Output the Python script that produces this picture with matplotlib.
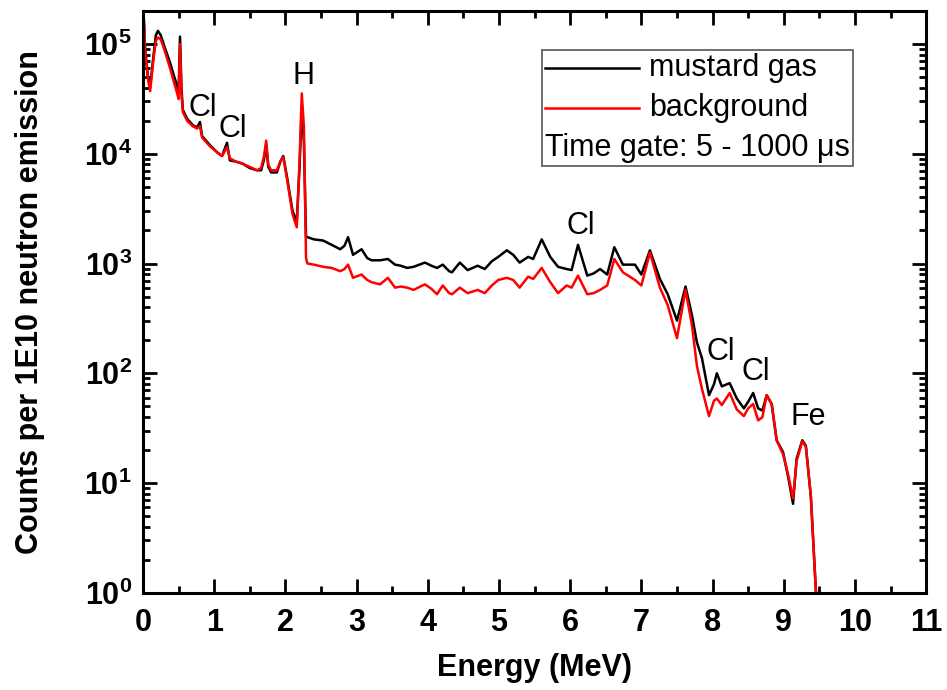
import math

import matplotlib

matplotlib.use("Agg")
import matplotlib.pyplot as plt
from matplotlib.lines import Line2D
from matplotlib.offsetbox import AnchoredOffsetbox, DrawingArea, HPacker, TextArea, VPacker
from matplotlib.ticker import FixedLocator, FuncFormatter, LogLocator, MultipleLocator, NullFormatter

plt.rcParams["font.family"] = ["Liberation Sans", "DejaVu Sans"]
plt.rcParams["mathtext.fontset"] = "custom"
plt.rcParams["mathtext.rm"] = "Liberation Sans"
plt.rcParams["mathtext.bf"] = "Liberation Sans:bold"

# gamma spectra, counts per 1E10 neutrons vs energy (MeV)
energy = [
    0.00, 0.03, 0.07, 0.10, 0.14, 0.18, 0.21, 0.25, 0.30, 0.38,
    0.44, 0.48, 0.50, 0.52, 0.54, 0.56, 0.62, 0.70, 0.76, 0.80,
    0.83, 0.94, 1.05, 1.11, 1.18, 1.22, 1.30, 1.40, 1.50, 1.60,
    1.66, 1.70, 1.73, 1.76, 1.80, 1.88, 1.93, 1.97, 2.02, 2.10,
    2.16, 2.20, 2.23, 2.26, 2.29, 2.31, 2.40, 2.53, 2.65, 2.77,
    2.83, 2.88, 2.95, 3.07, 3.15, 3.21, 3.33, 3.44, 3.54, 3.62,
    3.71, 3.80, 3.96, 4.05, 4.13, 4.21, 4.30, 4.34, 4.45, 4.56,
    4.70, 4.80, 4.90, 4.99, 5.11, 5.20, 5.29, 5.41, 5.48, 5.60,
    5.72, 5.83, 5.95, 6.02, 6.11, 6.24, 6.33, 6.42, 6.52, 6.62,
    6.74, 6.91, 7.00, 7.12, 7.26, 7.37, 7.50, 7.62, 7.71, 7.78,
    7.85, 7.95, 8.02, 8.06, 8.13, 8.24, 8.34, 8.44, 8.50, 8.57,
    8.64, 8.70, 8.76, 8.83, 8.90, 8.99, 9.06, 9.13, 9.18, 9.26,
    9.31, 9.38, 9.45, 9.50,
]

mustard_gas = [
    250000, 89100, 50100, 39800, 70800, 120000, 132000, 120000, 95500, 67600,
    50100, 41700, 36300, 117000, 39800, 25100, 20900, 18200, 17400, 19500,
    14500, 12000, 10200, 9550, 12600, 8710, 8510, 8130, 7410, 7080,
    7080, 8910, 12000, 7590, 6760, 6760, 8510, 9550, 6310, 3020,
    2400, 7940, 26900, 12600, 1740, 1740, 1660, 1620, 1480, 1350,
    1450, 1740, 1200, 1350, 1120, 1070, 1070, 1100, 977, 955,
    912, 933, 1020, 955, 912, 977, 851, 832, 1020, 871,
    955, 891, 1050, 1150, 1320, 1200, 1020, 1150, 1100, 1660,
    1150, 933, 891, 871, 1480, 776, 813, 891, 794, 1410,
    977, 977, 794, 1320, 724, 525, 302, 617, 339, 191,
    138, 63.1, 79.4, 100, 75.9, 81.3, 58.9, 47.9, 55.0, 66.1,
    47.9, 45.7, 63.1, 52.5, 24.5, 19.1, 11.5, 6.46, 16.6, 24.5,
    21.9, 7.59, 1.07, 0.32,
]

background = [
    250000, 89100, 47900, 37200, 66100, 107000, 115000, 110000, 89100, 60300,
    43700, 35500, 31600, 100000, 35500, 24000, 20000, 17800, 17000, 17800,
    14100, 11700, 10200, 9550, 11500, 9120, 8510, 8130, 7590, 7080,
    7410, 9550, 13200, 7940, 7080, 7080, 8510, 9330, 6030, 2820,
    2140, 8910, 35500, 17800, 1120, 1000, 977, 933, 912, 851,
    891, 977, 741, 794, 708, 676, 646, 741, 603, 617,
    603, 575, 646, 589, 525, 631, 537, 525, 603, 537,
    575, 537, 631, 708, 741, 708, 603, 759, 724, 912,
    676, 537, 631, 603, 776, 525, 537, 575, 631, 1100,
    832, 708, 631, 1260, 603, 417, 209, 575, 275, 117,
    72.4, 40.7, 56.2, 58.9, 51.3, 66.1, 46.8, 40.7, 47.9, 52.5,
    37.2, 39.8, 63.1, 52.5, 24.5, 18.2, 12.0, 7.24, 15.8, 24.0,
    21.4, 7.59, 1.07, 0.32,
]

peak_labels = ["Cl", "Cl", "H", "Cl", "Cl", "Cl", "Fe"]
peak_label_energy = [0.84, 1.26, 2.26, 6.15, 8.12, 8.60, 9.35]
peak_label_counts = [26000, 17000, 51000, 2200, 155, 102, 40]

assert len(energy) == len(mustard_gas) == len(background)

fig = plt.figure(figsize=(9.47, 6.90), dpi=100)
ax = fig.add_axes([0.151, 0.141, 0.827, 0.843])

ax.plot(energy, mustard_gas, color="black", lw=1.8)
ax.plot(energy, background, color="#ff0000", lw=1.8)

ax.set_yscale("log")
ax.set_xlim(0, 11)
ax.set_ylim(1, 2.0e5)

ax.xaxis.set_major_locator(MultipleLocator(1))
ax.xaxis.set_minor_locator(MultipleLocator(0.5))
ax.yaxis.set_major_locator(FixedLocator([1, 10, 100, 1e3, 1e4, 1e5]))
ax.yaxis.set_minor_locator(LogLocator(base=10, subs=range(2, 10), numticks=20))
ax.yaxis.set_minor_formatter(NullFormatter())
ax.yaxis.set_major_formatter(FuncFormatter(lambda v, _: r"$\mathbf{10^{%d}}$" % round(math.log10(v))))

ax.tick_params(which="both", direction="in", top=True, right=True, width=2)
ax.tick_params(which="major", length=10, labelsize=22)
ax.tick_params(axis="x", which="major", pad=11)
ax.tick_params(axis="y", which="major", pad=8)
ax.tick_params(which="minor", length=5)
for lbl in ax.get_xticklabels():
    lbl.set_fontweight("bold")
for spine in ax.spines.values():
    spine.set_linewidth(2.2)

ax.set_xlabel("Energy (MeV)", fontsize=22, fontweight="bold", labelpad=11)
ax.set_ylabel("Counts per 1E10 neutron emission", fontsize=22, fontweight="bold", labelpad=28)

for text, e, c in zip(peak_labels, peak_label_energy, peak_label_counts):
    ax.text(e, c, text, fontsize=22, ha="center", va="center")


def legend_row(color, label):
    swatch = DrawingArea(68, 14)
    swatch.add_artist(Line2D([0, 68], [7, 7], color=color, lw=1.8))
    return HPacker(children=[swatch, TextArea(label, textprops={"fontsize": 22})],
                   sep=7, align="center")


rows = VPacker(
    children=[
        legend_row("black", "mustard gas"),
        legend_row("#ff0000", "background"),
        TextArea("Time gate: 5 - 1000 \u03bcs", textprops={"fontsize": 22}),
    ],
    sep=7, align="left",
)
box = AnchoredOffsetbox(loc="upper right", child=rows, pad=0.25, borderpad=0.0,
                        bbox_to_anchor=(0.907, 0.933), bbox_transform=ax.transAxes,
                        frameon=True)
box.patch.set_edgecolor("#555555")
box.patch.set_linewidth(1.2)
ax.add_artist(box)

fig.savefig("out.png", dpi=100)
